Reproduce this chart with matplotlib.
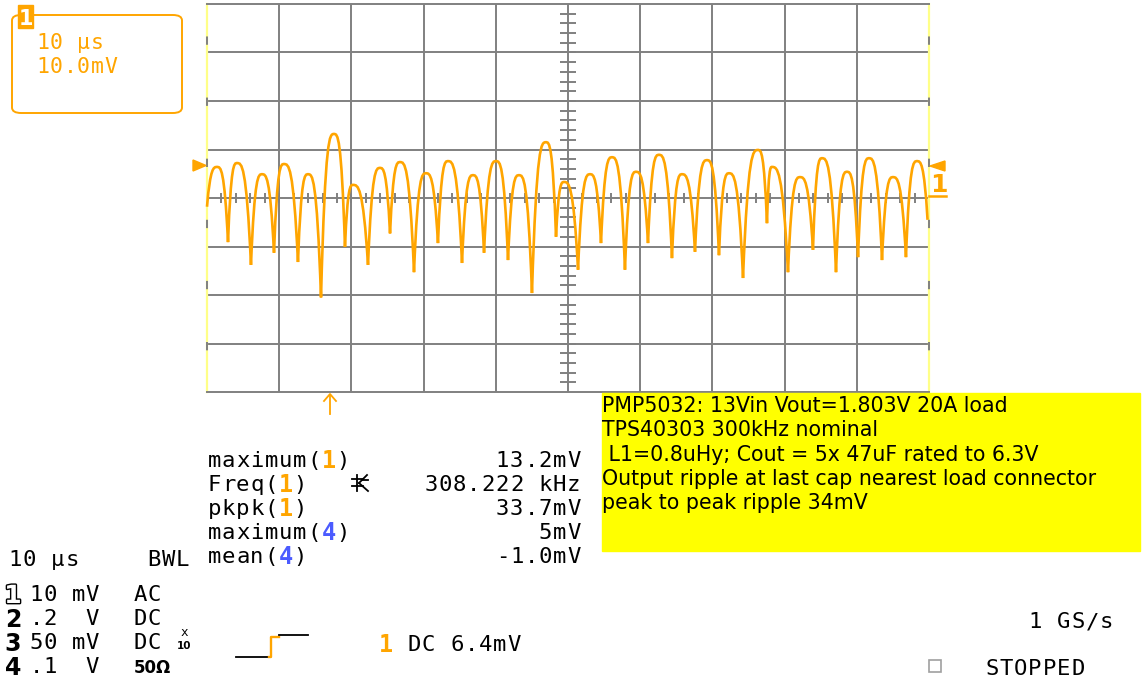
import matplotlib
matplotlib.use('Agg')
import numpy as np
import matplotlib.pyplot as plt
from matplotlib.path import Path
from matplotlib.patches import PathPatch, FancyBboxPatch, Rectangle, Polygon
import matplotlib.patheffects as pe

plt.rcParams['lines.scale_dashes'] = False

W, H = 1146, 683
ORANGE = '#FFA500'
GRID = '#808080'
BLUE = '#4B5BFF'
EDGE_YELLOW = '#FFFF88'

# ---- waveform key points (time in us, voltage in mV) ----
peak_t_us = [1.39, 4.16, 7.62, 10.66, 13.99, 17.59, 20.22, 23.96, 26.73, 30.33,
             33.38, 36.84, 40.03, 43.21, 46.95, 49.45, 53.05, 56.09, 59.42, 62.60,
             65.79, 69.25, 72.30, 76.32, 78.25, 82.13, 85.18, 88.64, 91.69, 95.01,
             98.34]
peak_mV = [6.4, 7.2, 4.9, 7.0, 4.9, 13.2, 2.7, 6.2, 7.4, 5.1,
           7.6, 4.7, 7.6, 4.7, 11.5, 3.3, 4.9, 8.4, 5.4, 8.9,
           4.9, 7.8, 5.1, 9.9, 6.4, 4.3, 8.2, 5.4, 8.2, 4.3,
           7.6]
valley_t_us = [0.0, 2.91, 6.09, 9.28, 12.60, 15.79, 19.11, 22.30, 25.35, 28.67,
               31.99, 35.32, 38.37, 41.69, 45.01, 48.34, 51.39, 54.57, 57.89, 61.08,
               64.40, 67.59, 70.91, 74.24, 77.56, 80.47, 83.93, 87.12, 90.17, 93.49,
               96.81, 99.8]
valley_mV = [-1.8, -9.1, -13.8, -11.3, -13.2, -20.5, -10.1, -13.8, -7.3, -15.3,
             -9.3, -13.4, -11.3, -12.8, -19.6, -8.0, -14.8, -9.3, -14.8, -9.3,
             -12.4, -11.1, -11.8, -16.5, -5.2, -15.3, -10.7, -15.3, -12.2, -12.8,
             -12.2, -4.5]

# ---- screen texts ----
meas_labels = ['maximum(1)', 'Freq(1)', 'pkpk(1)', 'maximum(4)', 'mean(4)']
meas_values = ['13.2mV', '308.222 kHz', '33.7mV', '5mV', '-1.0mV']
note_lines = ['PMP5032: 13Vin Vout=1.803V 20A load',
              'TPS40303 300kHz nominal',
              ' L1=0.8uHy; Cout = 5x 47uF rated to 6.3V',
              'Output ripple at last cap nearest load connector',
              'peak to peak ripple 34mV']
ch_scale = ['10', '.2', '50', '.1']
ch_unit = ['mV', 'V', 'mV', 'V']
ch_coupling = ['AC', 'DC', 'DC', '50Ω']

fig = plt.figure(figsize=(W / 100, H / 100), dpi=100)
fig.patch.set_facecolor('white')


def fx(x):
    return x / W


def fy(y):
    return 1 - y / H


MONO = 'DejaVu Sans Mono'
PITCH = 14.3
MSIZE = 16


def mono(x, yc, s, size=MSIZE, color='black', colors=None, pitch=PITCH, right=False,
         weight='normal', skip=()):
    if right:
        x = x - pitch * len(s)
    base = yc + 0.36 * size * 100 / 72
    for i, ch in enumerate(s):
        if ch == ' ' or i in skip:
            continue
        c = color
        if colors and i in colors:
            c = colors[i]
        fig.text(fx(x + pitch * (i + 0.5)), fy(base), ch, ha='center', va='baseline',
                 family=MONO, fontsize=size, color=c, weight=weight)


def seg(xs, ys, color='black', lw=1.3):
    fig.add_artist(plt.Line2D([fx(v) for v in xs], [fy(v) for v in ys], color=color, lw=lw))


# ---- graticule ----
ax = fig.add_axes([207 / W, 1 - 392 / H, 722 / W, 388 / H])
ax.set_xlim(0, 100)
ax.set_ylim(-40, 40)
ax.set_xticks(np.arange(10, 100, 10))
ax.set_yticks(np.arange(-30, 40, 10))
ax.grid(True, color=GRID, lw=1.4)
ax.set_axisbelow(True)
ax.tick_params(length=0, labelbottom=False, labelleft=False)
for s in ['top', 'bottom']:
    ax.spines[s].set_color(GRID)
    ax.spines[s].set_linewidth(1.4)
for s in ['left', 'right']:
    ax.spines[s].set_color(EDGE_YELLOW)
    ax.spines[s].set_linewidth(1.6)
for xe in (0, 100):
    ax.plot([xe, xe], [-40, 40], color=GRID, lw=1.4, linestyle=(14, (6, 38)),
            clip_on=False, zorder=3)

# center-line minor ticks
ax.vlines(np.arange(2, 100, 2), -0.95, 0.95, color=GRID, lw=1.4, zorder=1)
ax.hlines(np.arange(-38, 40, 2), 48.9, 51.1, color=GRID, lw=1.4, zorder=1)

# ---- trace ----
verts = [(valley_t_us[0], valley_mV[0])]
codes = [Path.MOVETO]
for i in range(len(peak_t_us)):
    t0, v0 = valley_t_us[i], valley_mV[i]
    tp, vp = peak_t_us[i], peak_mV[i]
    t1, v1 = valley_t_us[i + 1], valley_mV[i + 1]
    d = tp - t0
    verts += [(t0 + d / 3, vp), (t0 + 2 * d / 3, vp), (tp, vp)]
    codes += [Path.CURVE4] * 3
    d = t1 - tp
    verts += [(tp + d / 3, vp), (tp + 2 * d / 3, vp), (t1, v1)]
    codes += [Path.CURVE4] * 3
ax.add_patch(PathPatch(Path(verts, codes), fill=False, edgecolor=ORANGE, lw=1.9,
                       joinstyle='miter', zorder=4, clip_on=False))

# ---- markers around graticule ----
fig.patches.append(Polygon([(fx(193), fy(160)), (fx(193), fy(171)), (fx(206), fy(165.5))],
                           closed=True, color=ORANGE, transform=fig.transFigure))
fig.patches.append(Polygon([(fx(930), fy(166)), (fx(945), fy(161)), (fx(945), fy(171))],
                           closed=True, color=ORANGE, transform=fig.transFigure))
fig.text(fx(939), fy(192), '1', ha='center', va='baseline', family='DejaVu Sans',
         fontsize=18, weight='bold', color=ORANGE)
seg([929, 946], [196, 196], color=ORANGE, lw=1.8)
seg([330, 330], [414, 395], color=ORANGE, lw=1.3)
seg([324, 330, 336], [401, 394, 401], color=ORANGE, lw=1.3)

# ---- top-left box ----
fig.patches.append(FancyBboxPatch((fx(12), fy(113)), fx(170), (113 - 15) / H,
                                  boxstyle='round,pad=0,rounding_size=0.008',
                                  transform=fig.transFigure, fill=False,
                                  edgecolor=ORANGE, lw=1.4))
fig.patches.append(Rectangle((fx(18), fy(28)), fx(15), 23 / H, transform=fig.transFigure,
                             color=ORANGE))
fig.text(fx(25.5), fy(25), '1', ha='center', va='baseline', family='DejaVu Sans',
         fontsize=15, weight='bold', color='white')
mono(36, 41, '10 µs', color=ORANGE, pitch=13.6, size=15.5)
mono(36, 65, '10.0mV', color=ORANGE, pitch=13.6, size=15.5)

# ---- measurements ----
rows_y = [459, 483, 507, 531, 555]
for lab, val, y in zip(meas_labels, meas_values, rows_y):
    idx = lab.index('(') + 1
    col = ORANGE if lab[idx] == '1' else BLUE
    mono(207, y, lab, skip=(idx,))
    fig.text(fx(207 + PITCH * (idx + 0.5)), fy(y + 9.5), lab[idx], ha='center', va='baseline',
             family=MONO, fontsize=17, weight='bold', color=col)
    mono(581, y, val, right=True)

# statistics icon next to Freq(1) (instrument symbol, drawn as strokes)
seg([357, 357], [475, 491])
seg([352, 363], [479, 479])
seg([352, 363], [486, 486])
seg([359, 367], [483, 475])
seg([359, 368], [483, 491])
seg([362, 368], [480, 480])

# ---- channel settings ----
mono(8, 558, '10 µs')
mono(147, 558, 'BWL')
ch_rows = [593, 617, 641, 665]
for k, y in enumerate(ch_rows):
    num = str(k + 1)
    if k == 0:
        fig.text(fx(13), fy(y + 10), num, ha='center', va='baseline', family='DejaVu Sans',
                 fontsize=18, weight='bold', color='white',
                 path_effects=[pe.Stroke(linewidth=2.0, foreground='black'), pe.Normal()])
    else:
        fig.text(fx(13), fy(y + 10), num, ha='center', va='baseline', family='DejaVu Sans',
                 fontsize=17, weight='bold', color='black')
    mono(29, y, ch_scale[k])
    un = ch_unit[k]
    mono(71 if un == 'mV' else 85, y, un)
    cp = ch_coupling[k]
    if cp == '50Ω':
        fig.text(fx(134), fy(y + 8), cp, ha='left', va='baseline', family='DejaVu Sans',
                 fontsize=12, weight='bold', color='black')
    else:
        mono(133, y, cp)
fig.text(fx(184), fy(636), 'x', ha='center', va='baseline', family=MONO, fontsize=9)
fig.text(fx(184), fy(649), '10', ha='center', va='baseline', family='DejaVu Sans',
         fontsize=7.5, weight='bold')

# trigger symbol
seg([236, 269], [657, 657])
seg([269, 271, 271, 279], [657, 657, 637, 637], color=ORANGE, lw=1.7)
seg([279, 308], [635, 635])
fig.text(fx(386), fy(652), '1', ha='center', va='baseline', family=MONO, fontsize=17,
         weight='bold', color=ORANGE)
mono(407, 643, 'DC 6.4mV')

mono(1114, 620, '1 GS/s', right=True)
fig.patches.append(Rectangle((fx(929), fy(672)), fx(12), 12 / H, transform=fig.transFigure,
                             fill=False, edgecolor='#A0A0A0', lw=1.2))
mono(985, 667, 'STOPPED')

# ---- yellow note box ----
fig.patches.append(Rectangle((fx(602), fy(551)), fx(538), (551 - 393) / H,
                             transform=fig.transFigure, color='#FFFF00', zorder=0))
for i, line in enumerate(note_lines):
    fig.text(fx(602), fy(412 + 24.3 * i), line, ha='left', va='baseline',
             family='DejaVu Sans', fontsize=14.8, color='black')

fig.savefig('out.png', dpi=100, facecolor='white')
